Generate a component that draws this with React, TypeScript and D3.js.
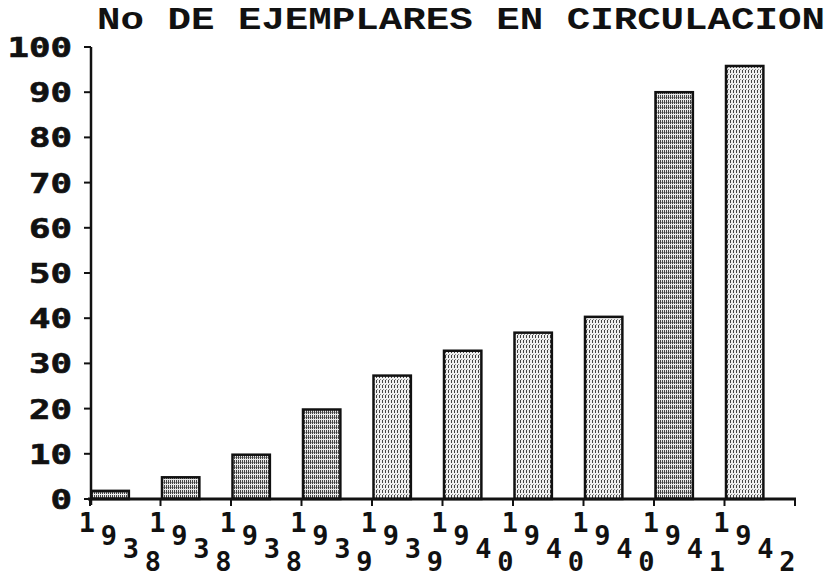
import React from "react";
import * as d3 from "d3";

const title = "No DE EJEMPLARES EN CIRCULACION";
const years = ["1938", "1938", "1938", "1939", "1939", "1940", "1940", "1940", "1941", "1942"];
const values = [1.8, 4.8, 9.8, 19.8, 27.3, 32.8, 36.8, 40.3, 90, 95.8];
const yTicks = [0, 10, 20, 30, 40, 50, 60, 70, 80, 90, 100];

const W = 830;
const H = 577;

export default function App() {
  const x = d3
    .scaleBand<number>()
    .domain(d3.range(values.length))
    .range([90, 795])
    .paddingInner(0)
    .paddingOuter(0);
  const y = d3.scaleLinear().domain([0, 100]).range([499, 47]);
  const bw = x.bandwidth() * 0.53;
  const xEnd = 795;
  const tickXs = [...d3.range(values.length).map((i) => x(i) as number), xEnd];
  const digitFont = "'DejaVu Sans Mono', monospace";

  return (
    <svg
      width={W}
      height={H}
      viewBox={`0 0 ${W} ${H}`}
      style={{ position: "absolute", left: 0, top: 0, background: "#fff" }}
    >
      <defs>
        <pattern id="tex" width={2} height={5} patternUnits="userSpaceOnUse">
          <rect width={2} height={5} fill="#e8e8e8" />
          <rect x={0} y={0} width={1} height={4} fill="#444" />
          <rect x={1} y={2} width={1} height={1} fill="#999" />
        </pattern>
        <pattern id="tex2" width={3} height={5} patternUnits="userSpaceOnUse">
          <rect width={3} height={5} fill="#f0f0f0" />
          <rect x={1} y={0} width={1} height={3} fill="#444" />
          <rect x={2} y={4} width={1} height={1} fill="#888" />
        </pattern>
      </defs>

      {/* Title */}
      <text
        x={97}
        y={29}
        fontFamily="'Liberation Mono', 'DejaVu Sans Mono', monospace"
        fontWeight="bold"
        fontSize={32}
        textLength={728}
        lengthAdjust="spacingAndGlyphs"
        fill="#111"
      >
        {title}
      </text>

      {/* Bars */}
      {values.map((v, i) => (
        <rect
          key={i}
          x={(x(i) as number) + 1.5}
          y={y(v)}
          width={bw}
          height={y(0) - y(v)}
          fill={i >= 4 && i !== 8 ? "url(#tex2)" : "url(#tex)"}
          stroke="#111"
          strokeWidth={2.5}
        />
      ))}

      {/* Y axis */}
      <line x1={91} x2={91} y1={y(100)} y2={505} stroke="#111" strokeWidth={2.5} />
      {yTicks.map((t) => (
        <g key={t}>
          <line x1={84} x2={91} y1={y(t)} y2={y(t)} stroke="#111" strokeWidth={2} />
          <text
            x={72}
            y={y(t) + 1}
            textAnchor="end"
            dominantBaseline="central"
            fontFamily={digitFont}
            fontWeight="bold"
            fontSize={26}
            textLength={String(t).length * 21.5}
            lengthAdjust="spacingAndGlyphs"
            fill="#111"
            stroke="#111"
            strokeWidth={0.6}
          >
            {String(t)}
          </text>
        </g>
      ))}

      {/* X axis */}
      <line x1={88} x2={xEnd + 1} y1={y(0)} y2={y(0)} stroke="#111" strokeWidth={3} />
      {tickXs.map((tx, i) => (
        <line key={i} x1={tx} x2={tx} y1={y(0)} y2={506} stroke="#111" strokeWidth={2} />
      ))}

      {/* Staircase year labels */}
      {years.map((yr, i) => (
        <g key={i}>
          {yr.split("").map((ch, k) => (
            <text
              key={k}
              x={(x(i) as number) - 3 + k * 22}
              y={532 + k * 13}
              textAnchor="middle"
              fontFamily={digitFont}
              fontWeight="bold"
              fontSize={27}
              fill="#111"
            >
              {ch}
            </text>
          ))}
        </g>
      ))}
    </svg>
  );
}
